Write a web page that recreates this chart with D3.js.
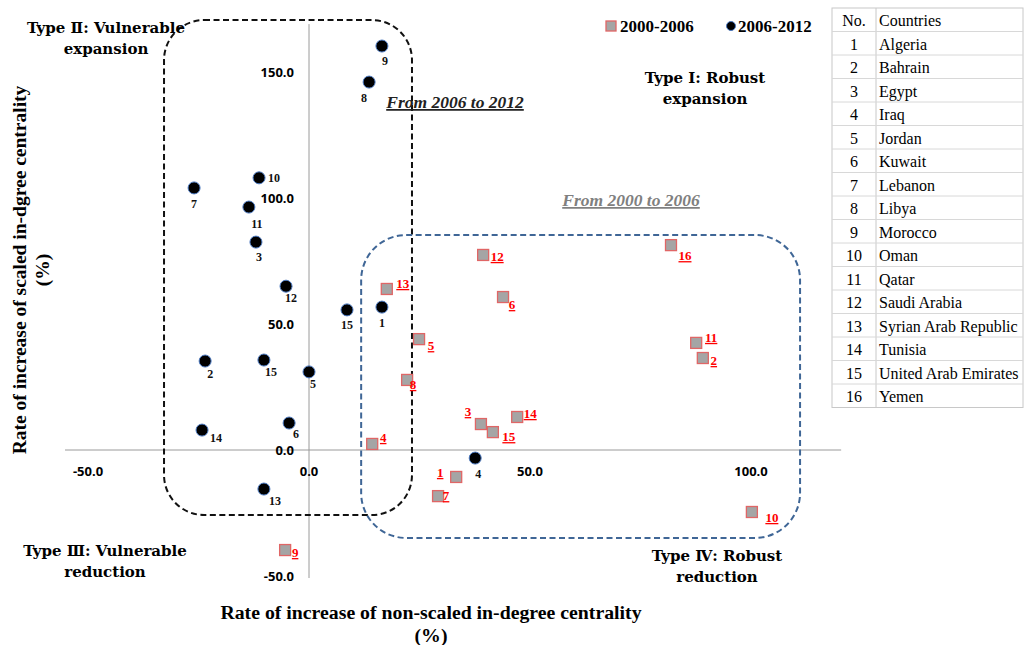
<!DOCTYPE html>
<html>
<head>
<meta charset="utf-8">
<script src="https://cdn.jsdelivr.net/npm/d3@7"></script>
<style>
  body { margin: 0; background: #fff; }
  svg { display: block; }
</style>
</head>
<body>
<script>
'use strict';

// country table
const countryNo = [1, 2, 3, 4, 5, 6, 7, 8, 9, 10, 11, 12, 13, 14, 15, 16];
const countryNames = ["Algeria", "Bahrain", "Egypt", "Iraq", "Jordan", "Kuwait", "Lebanon", "Libya",
  "Morocco", "Oman", "Qatar", "Saudi Arabia", "Syrian Arab Republic", "Tunisia",
  "United Arab Emirates", "Yemen"];

// 2000-2006 (grey squares)
const p1Labels = [12, 16, 13, 6, 5, 11, 2, 8, 14, 3, 15, 4, 1, 7, 10, 9];
const p1X = [39.4, 81.9, 17.6, 43.9, 24.9, 87.6, 89.1, 22.2, 47.1, 38.9, 41.6, 14.3, 33.3, 29.2, 100.2, -5.4];
const p1Y = [77.4, 81.3, 63.9, 60.7, 44.0, 42.5, 36.5, 27.8, 13.1, 10.3, 7.1, 2.4, -10.7, -18.3, -24.6, -39.7];

// 2006-2012 (black dots)
const p2Labels = [9, 8, 10, 7, 11, 3, 12, 15, 1, 2, 15, 5, 14, 6, 13, 4];
const p2X = [16.5, 13.6, -11.3, -26.0, -13.6, -12.0, -5.2, 8.6, 16.5, -23.5, -10.2, 0.0, -24.2, -4.5, -10.2, 37.6];
const p2Y = [160.3, 146.0, 108.0, 104.0, 96.4, 82.5, 65.0, 55.6, 56.7, 35.3, 35.7, 31.0, 7.9, 10.7, -15.5, -3.2];

const xTicks = [-50, 0, 50, 100];
const yTicks = [-50, 0, 50, 100, 150];

// label offsets (px) for each point, same order as above
const p1Off = [[14, 2], [14, 11], [16, -5], [9, 8], [12, 7], [15, -5], [11, 3], [6, 5],
  [13, -3], [-13, -12], [16, 5], [11, -6], [-16, -4], [8, 0], [20, 6], [10, 3]];
const p2Off = [[3, 15], [-5, 16], [15, 0], [0, 16], [8, 17], [3, 15], [5, 12], [0, 15],
  [0, 16], [5, 13], [7, 12], [4, 12], [14, 8], [7, 11], [11, 12], [3, 16]];

const svg = d3.select('body').append('svg')
  .attr('width', 1025)
  .attr('height', 645);

const x = d3.scaleLinear().domain([-50, 100]).range([88, 751]);
const y = d3.scaleLinear().domain([-50, 150]).range([576, 72]);

// axis lines through zero
svg.append('line')
  .attr('x1', x(-55.2)).attr('x2', x(120.4))
  .attr('y1', y(0)).attr('y2', y(0))
  .attr('stroke', '#9a9a9a').attr('stroke-width', 1);
svg.append('line')
  .attr('x1', x(0)).attr('x2', x(0))
  .attr('y1', y(169)).attr('y2', y(-50.8))
  .attr('stroke', '#9a9a9a').attr('stroke-width', 1);

const tickFont = "'Open Sans', 'Liberation Sans', sans-serif";

svg.selectAll('.xt').data(xTicks).enter().append('text')
  .attr('x', d => x(d))
  .attr('y', y(0) + 26)
  .attr('text-anchor', 'middle')
  .style('font-family', tickFont)
  .style('font-weight', 'bold')
  .style('font-size', '13px')
  .text(d => d.toFixed(1));

svg.selectAll('.yt').data(yTicks).enter().append('text')
  .attr('x', x(0) - 15)
  .attr('y', d => y(d) + 5)
  .attr('text-anchor', 'end')
  .style('font-family', tickFont)
  .style('font-weight', 'bold')
  .style('font-size', '13px')
  .text(d => d.toFixed(1));

// dashed groups
function box(x0, x1, y0, y1, color, r) {
  svg.append('rect')
    .attr('x', x(x0)).attr('y', y(y0))
    .attr('width', x(x1) - x(x0)).attr('height', y(y1) - y(y0))
    .attr('rx', r).attr('ry', r)
    .attr('fill', 'none')
    .attr('stroke', color)
    .attr('stroke-width', 2)
    .attr('stroke-dasharray', '6,3.5');
}
box(-32.8, 23.3, 170.6, -25.8, '#111', 40);
box(11.8, 111.1, 85.3, -34.9, '#3f6696', 45);

const serif = "'Liberation Serif', 'Times New Roman', serif";

function note(tx, ty, str, color) {
  svg.append('text')
    .attr('x', tx).attr('y', ty)
    .attr('text-anchor', 'middle')
    .style('font-family', serif)
    .style('font-weight', 'bold')
    .style('font-style', 'italic')
    .style('font-size', '17.5px')
    .style('text-decoration', 'underline')
    .attr('fill', color)
    .text(str);
}
note(455, 108, 'From 2006 to 2012', '#222');
note(631, 206, 'From 2000 to 2006', '#808080');

// quadrant type labels
function typeLabel(cx, cy, lines) {
  const t = svg.append('text')
    .attr('text-anchor', 'middle')
    .style('font-family', "'DejaVu Serif', serif")
    .style('font-weight', 'bold')
    .style('font-size', '15px');
  lines.forEach((l, i) => {
    t.append('tspan').attr('x', cx).attr('y', cy + i * 21).text(l);
  });
}
typeLabel(106, 33, ['Type Ⅱ: Vulnerable', 'expansion']);
typeLabel(705, 83, ['Type Ⅰ: Robust', 'expansion']);
typeLabel(105, 556, ['Type Ⅲ: Vulnerable', 'reduction']);
typeLabel(717, 561, ['Type Ⅳ: Robust', 'reduction']);

// squares 2000-2006
const sq = 11;
p1X.forEach((v, i) => {
  const cx = x(v), cy = y(p1Y[i]);
  svg.append('rect')
    .attr('x', cx - sq / 2).attr('y', cy - sq / 2)
    .attr('width', sq).attr('height', sq)
    .attr('fill', '#a5a5a5')
    .attr('stroke', '#e06666')
    .attr('stroke-width', 1.3);
  svg.append('text')
    .attr('x', cx + p1Off[i][0]).attr('y', cy + p1Off[i][1] + 4)
    .attr('text-anchor', 'middle')
    .style('font-family', serif)
    .style('font-weight', 'bold')
    .style('font-size', '13px')
    .style('text-decoration', 'underline')
    .attr('fill', '#ff0000')
    .text(p1Labels[i]);
});

// dots 2006-2012
p2X.forEach((v, i) => {
  const cx = x(v), cy = y(p2Y[i]);
  svg.append('circle')
    .attr('cx', cx).attr('cy', cy).attr('r', 6)
    .attr('fill', '#000')
    .attr('stroke', '#4a78c0')
    .attr('stroke-width', 1);
  svg.append('text')
    .attr('x', cx + p2Off[i][0]).attr('y', cy + p2Off[i][1] + 4)
    .attr('text-anchor', 'middle')
    .style('font-family', serif)
    .style('font-weight', 'bold')
    .style('font-size', '12px')
    .attr('fill', '#111')
    .text(p2Labels[i]);
});

// legend
svg.append('rect').attr('x', 606).attr('y', 21).attr('width', 10).attr('height', 10)
  .attr('fill', '#a5a5a5').attr('stroke', '#e06666').attr('stroke-width', 1.3);
svg.append('text').attr('x', 620).attr('y', 32)
  .style('font-family', serif).style('font-weight', 'bold').style('font-size', '17px')
  .text('2000-2006');
svg.append('circle').attr('cx', 731).attr('cy', 26).attr('r', 4.5)
  .attr('fill', '#000').attr('stroke', '#4a78c0').attr('stroke-width', 1);
svg.append('text').attr('x', 738).attr('y', 32)
  .style('font-family', serif).style('font-weight', 'bold').style('font-size', '17px')
  .text('2006-2012');

// axis titles
const yt = svg.append('text')
  .attr('transform', 'translate(26, 270) rotate(-90)')
  .attr('text-anchor', 'middle')
  .style('font-family', serif)
  .style('font-weight', 'bold')
  .style('font-size', '19.5px');
yt.append('tspan').attr('x', 0).attr('y', 0).text('Rate of increase of scaled in-dgree centrality');
yt.append('tspan').attr('x', 0).attr('y', 23).text('(%)');

const xtl = svg.append('text')
  .attr('text-anchor', 'middle')
  .style('font-family', serif)
  .style('font-weight', 'bold')
  .style('font-size', '19.8px');
xtl.append('tspan').attr('x', 431).attr('y', 619).text('Rate of increase of non-scaled in-degree centrality');
xtl.append('tspan').attr('x', 431).attr('y', 642).text('(%)');

// country table
const tbl = svg.append('g');
const rowH = 23.5, tTop = 8, tLeft = 832, tMid = 876, tRight = 1023;
const rows = [['No.', 'Countries']].concat(countryNo.map((n, i) => [n, countryNames[i]]));
tbl.append('rect')
  .attr('x', tLeft).attr('y', tTop)
  .attr('width', tRight - tLeft).attr('height', rowH * rows.length)
  .attr('fill', 'none').attr('stroke', '#c8c8c8');
tbl.append('line')
  .attr('x1', tMid).attr('x2', tMid)
  .attr('y1', tTop).attr('y2', tTop + rowH * rows.length)
  .attr('stroke', '#c8c8c8');
rows.forEach((r, i) => {
  const ry = tTop + rowH * i;
  if (i > 0) {
    tbl.append('line')
      .attr('x1', tLeft).attr('x2', tRight)
      .attr('y1', ry).attr('y2', ry)
      .attr('stroke', '#d8d8d8');
  }
  tbl.append('text')
    .attr('x', (tLeft + tMid) / 2).attr('y', ry + 18)
    .attr('text-anchor', 'middle')
    .style('font-family', serif).style('font-size', '16px')
    .text(r[0]);
  tbl.append('text')
    .attr('x', tMid + 3).attr('y', ry + 18)
    .style('font-family', serif).style('font-size', '16px')
    .text(r[1]);
});
</script>
</body>
</html>
